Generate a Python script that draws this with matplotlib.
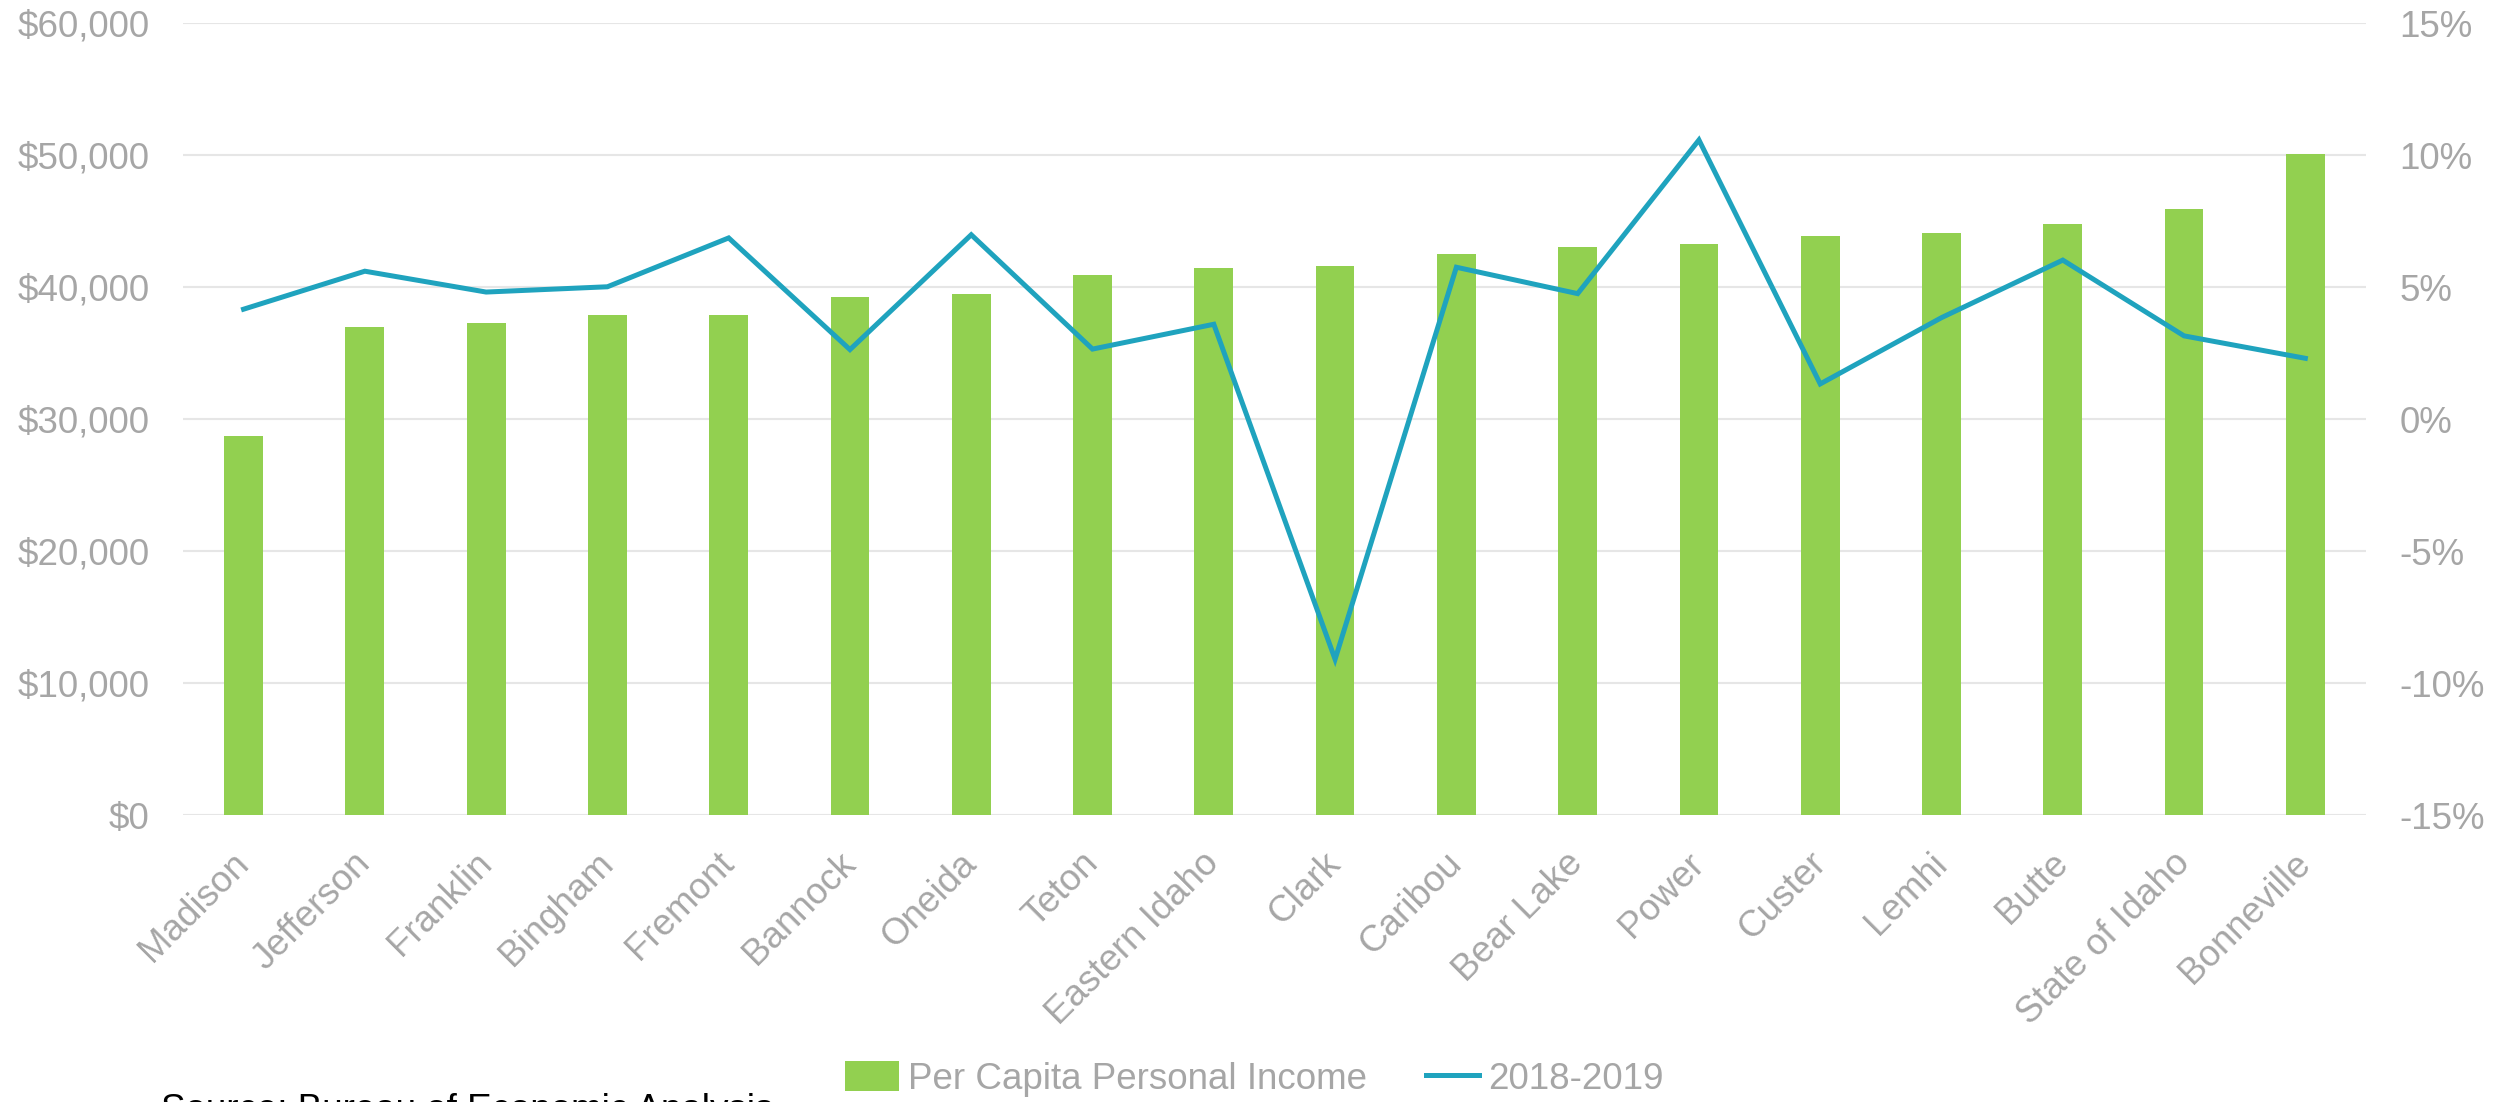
import matplotlib
matplotlib.use("Agg")
import matplotlib.pyplot as plt
from matplotlib.ticker import FuncFormatter
from matplotlib.transforms import ScaledTranslation
import numpy as np

plt.rcParams['font.family'] = ['Liberation Sans', 'DejaVu Sans']

counties = ["Madison", "Jefferson", "Franklin", "Bingham", "Fremont", "Bannock",
            "Oneida", "Teton", "Eastern Idaho", "Clark", "Caribou", "Bear Lake",
            "Power", "Custer", "Lemhi", "Butte", "State of Idaho", "Bonneville"]
income = [28720, 36990, 37260, 37860, 37910, 39220, 39500, 40880, 41410, 41560,
          42480, 43050, 43250, 43860, 44100, 44770, 45900, 50100]
growth = [4.16, 5.6, 4.81, 5.01, 6.86, 2.63, 6.98, 2.65, 3.59, -9.1,
          5.75, 4.75, 10.57, 1.33, 3.84, 6.02, 3.15, 2.30]

BAR_COLOR = "#92D050"
LINE_COLOR = "#1FA3BE"
TEXT_COLOR = "#A6A6A6"
GRID_COLOR = "#E6E6E6"
FS = 26.5

fig = plt.figure(figsize=(25.09, 11.02), dpi=100)
ax = fig.add_axes([0.0729, 0.2604, 0.8701, 0.7187])
ax2 = ax.twinx()

x = np.arange(len(counties))
ax.bar(x, income, width=0.32, color=BAR_COLOR, label="Per Capita Personal Income", zorder=2)
ax2.plot(x, growth, color=LINE_COLOR, lw=3.6, label="2018-2019", solid_joinstyle="miter")

ax.set_xlim(-0.5, len(counties) - 0.5)
ax.set_ylim(0, 60000)
ax.set_yticks(np.arange(0, 60001, 10000))
ax.yaxis.set_major_formatter(FuncFormatter(lambda v, p: f"${v:,.0f}"))
ax2.set_ylim(-15, 15)
ax2.set_yticks(np.arange(-15, 16, 5))
ax2.yaxis.set_major_formatter(FuncFormatter(lambda v, p: f"{v:.0f}%"))

ax.grid(axis="y", color=GRID_COLOR, lw=1.5, zorder=0)
ax.set_axisbelow(True)
for a in (ax, ax2):
    for s in a.spines.values():
        s.set_visible(False)

# rotated county names, anchored at the baseline end like excel does
ax.set_xticks(x)
ax.set_xticklabels(counties, rotation=45, ha="right", va="baseline", rotation_mode="anchor")
ax.tick_params(axis="x", length=0, pad=36, labelsize=FS, labelcolor=TEXT_COLOR)
shift = ScaledTranslation(5 / 72, 0, fig.dpi_scale_trans)
for lab in ax.get_xticklabels():
    lab.set_transform(lab.get_transform() + shift)
ax.tick_params(axis="y", length=0, pad=24, labelsize=FS, labelcolor=TEXT_COLOR)
ax2.tick_params(axis="y", length=0, pad=24, labelsize=FS, labelcolor=TEXT_COLOR)

h1, l1 = ax.get_legend_handles_labels()
h2, l2 = ax2.get_legend_handles_labels()
fig.legend(h1 + h2, l1 + l2, loc="center", bbox_to_anchor=(0.5, 0.021), ncol=2,
           frameon=False, fontsize=FS, labelcolor=TEXT_COLOR,
           handlelength=1.45, handleheight=0.85, handletextpad=0.25, columnspacing=1.6)

fig.text(0.064, 0.008, "Source: Bureau of Economic Analysis", fontsize=FS,
         color="black", va="top", ha="left")

fig.savefig("out.png", dpi=100)
